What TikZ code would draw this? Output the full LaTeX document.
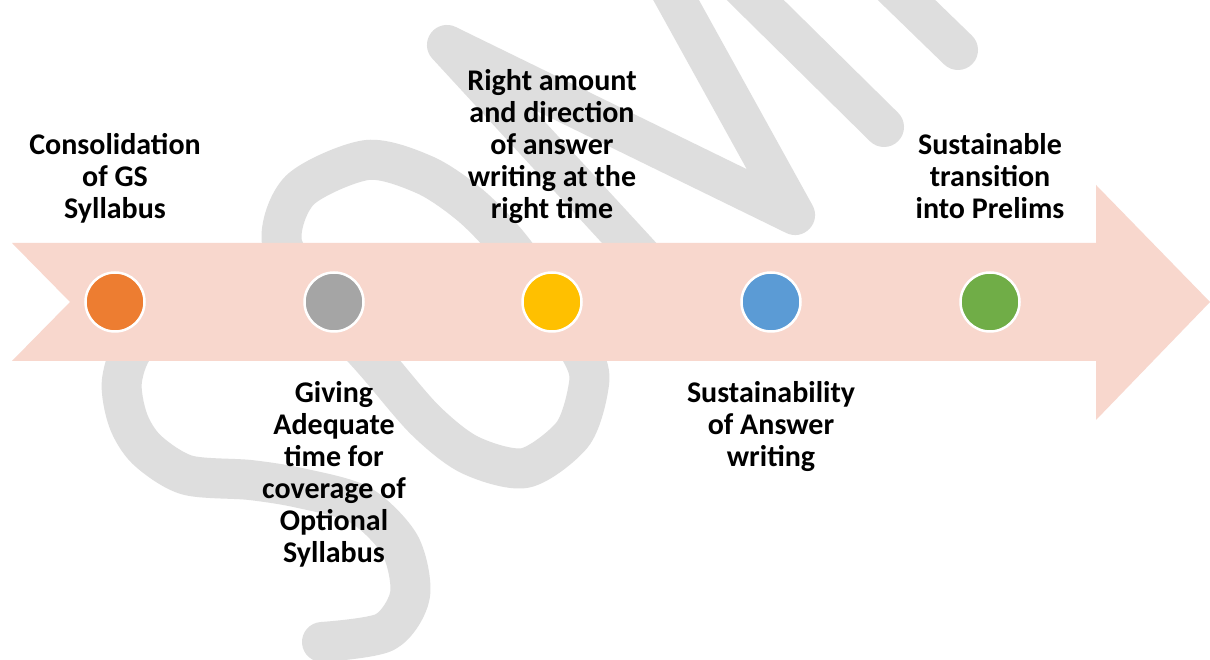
\documentclass[tikz,border=0pt]{standalone}
\usepackage{fontspec}
\setmainfont{Carlito}
\definecolor{bande}{HTML}{F8D7CD}
\definecolor{filigrane}{HTML}{DEDEDE}
\definecolor{orange1}{HTML}{ED7D31}
\definecolor{gris1}{HTML}{A5A5A5}
\definecolor{jaune1}{HTML}{FFC000}
\definecolor{bleu1}{HTML}{5B9BD5}
\definecolor{vert1}{HTML}{70AD47}
\begin{document}
\begin{tikzpicture}[x=1pt,y=1pt]
\tikzset{rond/.style={circle, draw=white, line width=2.5pt, minimum size=59pt, inner sep=0pt},
texte/.style={font=\bfseries\fontsize{30}{32}\selectfont, align=center, inner sep=0pt, anchor=base},
trait/.style={draw=filigrane, line width=40pt, line cap=round, line join=round}}
\fill[white] (0,0) rectangle (1210,660);
\useasboundingbox (0,0) rectangle (1210,660);
% filigrane
\begin{scope}
\clip (0,0) rectangle (1210,660);
\draw[trait] plot[smooth cycle] coordinates {(282,417) (300,470) (367,500) (425,485) (470,455) (507,417) (545,365) (585,300) (588,270) (572,225) (525,192) (470,205) (425,240) (375,298) (320,360)};
\draw[trait] plot[smooth] coordinates {(210,370) (140,320) (122,280) (128,240) (147,210) (187,185) (250,180) (300,172) (360,155) (400,115) (410,65) (385,28) (322,18)};
\draw[trait] (700,340) -- (447,615) -- (795,445) -- (665,680);
\draw[trait] (740,675) -- (884,533);
\draw[trait] (890,676) -- (958,610);
\end{scope}
% fleche
\fill[bande] (12,417) -- (1096,417) -- (1096,475) -- (1210,358) -- (1096,240) -- (1096,299) -- (12,299) -- (70,358) -- cycle;
\node[rond, fill=orange1] (C1) at (115,358) {};
\node[rond, fill=gris1] (C2) at (334,358) {};
\node[rond, fill=jaune1] (C3) at (552,358) {};
\node[rond, fill=bleu1] (C4) at (771,358) {};
\node[rond, fill=vert1] (C5) at (990,358) {};
\node[texte] (T1) at (115,441) {Consolidation\\of GS\\Syllabus};
\node[texte] (T2) at (334,97) {Giving\\Adequate\\time for\\coverage of\\Optional\\Syllabus};
\node[texte] (T3) at (552,441) {Right amount\\and direction\\of answer\\writing at the\\right time};
\node[texte] (T4) at (771,193) {Sustainability\\of Answer\\writing};
\node[texte] (T5) at (990,441) {Sustainable\\transition\\into Prelims};
\end{tikzpicture}
\end{document}
